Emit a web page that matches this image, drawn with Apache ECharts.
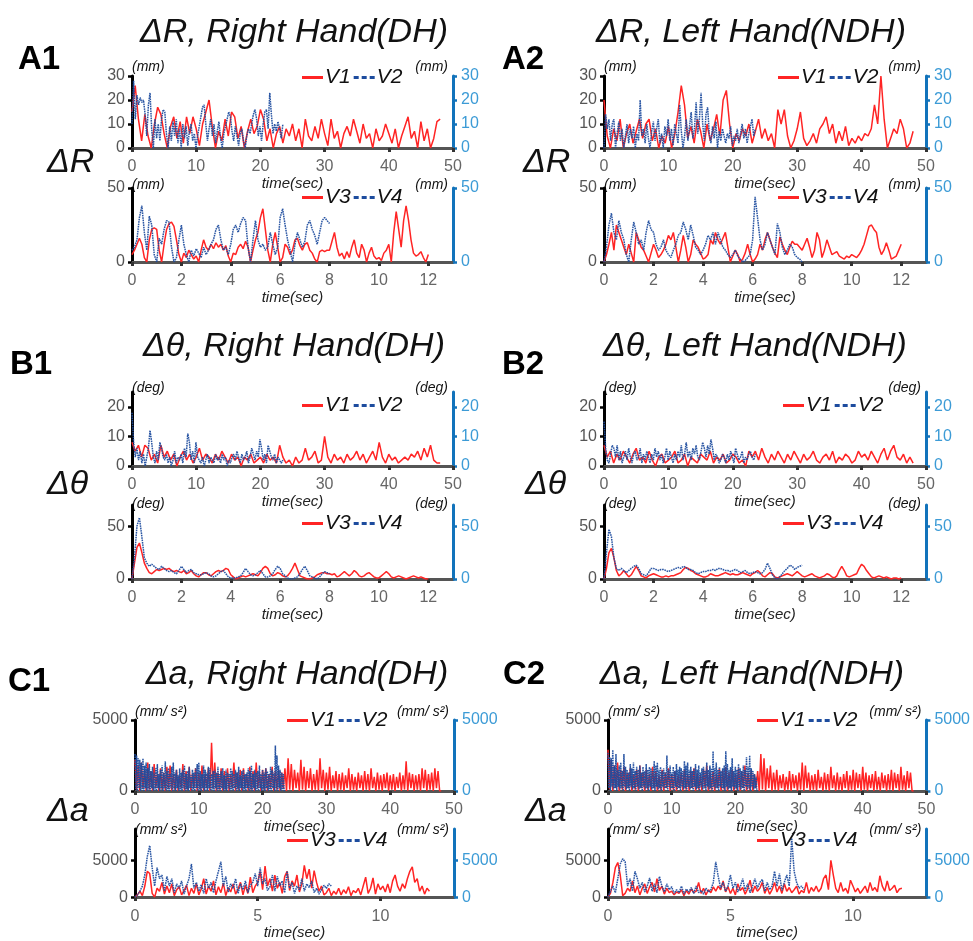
<!DOCTYPE html>
<html>
<head>
<meta charset="utf-8">
<script src="https://cdn.jsdelivr.net/npm/echarts@6/dist/echarts.min.js"></script>
<style>
html, body { margin: 0; padding: 0; background: #fff; }
#main { width: 973px; height: 941px; }
</style>
</head>
<body>
<div id="main"></div>
<script>
// time span (sec) covered by each trace, samples are evenly spread over it
var spanV1 = 48, spanV2 = 23.5, spanV3 = 12, spanV4 = 8;

// ---- A : delta R (mm) ----
var a1V1 = [15,26,12,3,14,5,0,10,17,14,6,0,9,13,4,11,2,13,6,13,8,1,10,15,20,9,0,7,3,12,5,15,13,4,9,0,7,12,6,9,16,12,3,8,0,6,9,2,8,5,10,3,8,0,12,5,3,9,4,12,6,1,12,4,7,0,6,9,5,12,7,2,10,4,6,0,8,3,5,10,6,2,8,0,5,9,13,4,7,0,11,3,8,0,4,11,12];
var a1V2 = [10,28,12,22,18,21,19,20,14,5,18,23,8,0,12,4,10,3,12,16,15,6,0,9,3,11,5,12,2,8,0,10,4,9,1,7,10,3,6,0,5,9,13,17,18,10,3,8,12,5,10,2,7,11,4,0,6,9,12,15,13,7,3,9,5,1,6,8,3,0,5,8,6,10,14,16,12,5,9,3,10,15,16,8,23,14,6,10,7,11,8,4,10];
var a1V3 = [5,8,12,16,12,3,0,15,22,23,22,8,0,12,22,26,27,24,15,5,0,6,3,8,5,2,4,0,8,15,10,8,12,9,13,10,12,8,11,4,0,6,5,10,12,9,14,10,0,8,15,20,30,36,22,8,0,12,20,10,0,3,12,10,5,8,15,16,11,8,12,13,8,6,2,0,7,8,7,8,8,14,20,10,4,6,2,7,3,10,15,6,3,12,8,0,6,10,4,2,3,1,6,8,12,0,20,34,22,10,28,38,28,15,6,4,5,7,3,0,5];
var a1V4 = [8,10,15,30,38,20,8,31,25,5,0,16,12,22,28,27,10,0,3,15,25,12,5,0,8,4,9,6,3,10,5,8,12,15,22,25,15,8,10,5,12,22,25,20,26,30,28,10,0,15,28,15,10,12,8,10,20,12,5,10,30,36,25,15,8,0,12,20,15,10,14,25,28,22,18,12,20,28,30,28,26];
var a2V1 = [20,5,0,8,3,12,0,6,10,2,7,12,4,10,12,3,8,0,5,2,9,0,6,15,26,18,4,9,2,12,7,0,10,3,8,14,5,20,24,10,0,6,3,8,5,10,2,7,12,4,8,3,6,0,16,10,16,5,0,3,8,15,4,1,3,6,2,8,10,13,6,10,2,7,3,9,1,4,2,5,3,6,5,8,18,10,30,12,0,4,8,6,12,8,0,2,7];
var a2V2 = [0,14,8,12,3,10,12,0,6,11,3,8,0,5,10,2,8,4,9,0,6,3,20,5,8,2,10,4,0,7,11,3,8,12,2,6,0,9,5,12,3,8,1,10,6,2,18,7,0,5,12,3,9,15,4,8,19,6,12,23,10,3,14,17,6,2,9,4,11,0,7,3,8,5,2,6,4,9,1,5,3,8,2,6,10,4,8,2,6,9,12,5,8];
var a2V3 = [0,5,12,20,8,25,20,15,10,5,12,6,0,20,15,10,8,4,0,6,12,8,3,5,8,12,18,15,20,10,0,8,18,10,0,5,15,12,10,6,2,3,5,15,12,20,15,12,16,20,10,0,4,8,5,0,2,6,12,5,0,2,5,12,8,15,20,15,10,6,3,17,12,8,5,10,14,12,12,10,8,12,16,10,3,8,20,15,3,8,15,10,5,6,7,4,3,2,4,3,5,4,3,5,8,12,18,24,25,22,20,10,5,8,13,8,2,3,4,8,12];
var a2V4 = [0,10,25,33,20,15,28,20,15,5,0,15,27,20,12,15,8,20,28,22,20,12,8,10,15,8,5,3,8,12,18,20,27,22,15,25,18,10,8,5,8,12,18,15,20,12,20,15,10,8,5,3,5,8,4,2,0,1,3,5,15,44,30,15,8,12,20,15,10,5,26,20,10,5,8,12,10,5,3,2,0];

// ---- B : delta theta (deg) ----
var b1V1 = [8,5,7,3,7,6,2,4,1,7,3,5,2,4,0,3,5,2,4,1,3,6,2,4,3,1,4,2,5,3,1,4,2,3,0,3,2,4,1,2,3,1,4,2,3,1,7,3,1,2,0,3,1,2,6,2,3,5,1,2,10,3,1,4,2,3,1,4,2,3,5,2,4,1,3,5,2,8,3,1,4,2,3,1,2,3,2,4,3,5,2,6,3,7,2,1,1];
var b1V2 = [18,8,3,6,2,5,1,4,0,3,6,12,8,3,1,5,2,8,6,3,2,4,1,3,0,2,5,1,3,2,4,1,6,3,11,8,2,5,1,8,3,2,1,3,0,2,4,1,3,2,1,4,2,3,1,4,2,3,0,2,1,3,4,2,5,3,1,4,2,3,5,1,3,6,4,2,5,3,9,6,2,4,1,7,5,3,2,4,1,3,2,1,2];
var b1V3 = [0,15,30,34,25,15,10,6,5,7,9,8,9,10,9,10,8,7,8,7,6,8,5,6,8,5,3,2,4,6,6,4,3,5,7,8,7,8,10,9,4,2,0,1,2,3,2,3,4,5,4,3,6,10,12,10,5,3,4,6,5,3,2,3,6,10,15,9,3,2,1,0,0,1,2,4,5,6,6,5,5,4,5,2,3,5,7,5,3,5,8,6,3,2,3,5,6,4,2,1,1,3,5,7,5,2,1,2,3,2,1,0,1,2,3,2,1,2,1,0,0];
var b1V4 = [0,20,50,58,40,20,15,12,14,12,10,9,12,10,8,7,8,6,5,8,12,9,6,8,9,6,5,4,4,5,6,5,3,2,3,5,7,8,5,2,1,1,1,2,3,6,10,7,4,3,4,6,8,5,2,2,3,5,9,12,10,5,3,1,0,0,1,2,5,9,12,8,3,2,1,0,2,5,7,6,5];
var b2V1 = [7,3,5,1,4,2,5,3,1,4,6,2,3,1,5,2,0,3,4,1,2,3,5,1,2,4,0,3,2,1,4,3,2,5,1,3,2,4,1,2,4,3,1,2,0,5,3,5,2,6,3,1,4,2,5,3,1,4,2,5,3,1,4,2,3,5,2,1,3,4,2,5,1,3,2,4,3,1,2,5,3,4,2,5,3,1,4,6,2,5,7,3,2,4,1,3,1];
var b2V2 = [15,6,2,1,4,7,6,3,7,2,5,1,3,5,2,6,3,1,4,5,2,3,6,1,4,2,5,3,1,4,2,6,3,5,2,4,1,3,6,2,5,3,1,4,2,5,3,7,2,4,8,3,5,2,6,4,7,3,2,5,8,6,3,7,4,9,6,2,4,3,1,2,4,3,1,4,2,5,3,1,6,4,2,3,5,1,3,2,4,5,3,2,4];
var b2V3 = [0,10,25,29,20,8,3,5,8,5,2,4,8,12,8,3,2,1,3,4,5,4,3,2,2,3,2,3,3,4,5,6,9,11,10,8,7,5,4,3,2,2,3,5,4,3,3,4,5,6,5,4,5,4,4,5,6,5,4,3,5,6,8,6,3,2,4,6,5,2,1,2,3,4,5,4,3,5,7,5,3,2,3,4,5,3,2,1,2,3,5,4,2,1,3,8,12,8,3,2,3,4,5,10,14,12,8,5,2,1,2,3,2,1,2,1,0,1,1,0,1];
var b2V4 = [0,25,47,40,20,10,8,10,8,6,8,10,12,13,10,5,4,3,6,10,10,9,8,9,9,8,7,8,9,10,11,10,12,11,9,9,8,6,5,6,7,7,8,8,9,8,10,10,9,8,8,7,8,9,8,6,7,8,6,5,6,7,6,5,6,9,15,10,4,1,0,2,5,8,10,13,12,9,11,12,13];

// ---- C : delta a (mm/s^2) ----
var c1V1 = [
  2200,100,1800,0,2000,200,1500,0,2000,100,1400,0,1900,200,1200,0,1600,100,1300,0,
  1700,200,1800,0,1200,100,1500,0,1100,200,1900,0,1400,100,1700,0,1200,200,1600,0,
  1300,100,1800,0,1200,200,1600,0,3400,200,2000,0,1300,100,1600,0,1400,100,1600,0,
  1200,200,2000,0,1300,100,1500,0,1600,200,1200,0,1700,100,1400,0,2000,200,1300,0,
  1500,100,1600,0,1200,200,1700,0,1400,100,1500,0,1300,200,1600,0,2300,100,1900,0,
  1500,200,1300,0,2200,100,1700,0,1400,200,1600,0,1200,100,1500,0,2300,200,1500,0,
  1300,100,1700,0,1100,200,1400,0,1200,100,1300,0,1100,200,1600,0,1200,100,1000,0,
  1300,200,1100,0,1400,100,1200,0,1600,200,1000,0,1300,100,1100,0,1200,200,1300,0,
  1100,100,1200,0,1000,200,1300,0,1100,100,2100,0,1300,200,1200,0,1100,100,1200,0,
  1600,200,1500,0,1200,100,1300,0,1600,200,1400,0,0];
var c1V2 = [
  2600,100,2500,0,2300,200,2200,0,2000,100,2300,0,1800,200,2000,0,1600,100,1900,0,
  1400,200,1700,0,1300,100,1600,0,1900,200,1200,0,1500,100,1800,0,1300,200,2100,0,
  1400,100,1600,0,1200,200,1700,0,2000,100,1300,0,1500,200,1100,0,1600,100,1300,0,
  1500,200,1800,0,1200,100,1400,0,1700,200,1100,0,1500,100,1300,0,1600,200,1900,0,
  2000,100,1400,0,1200,200,1800,0,1500,100,1300,0,1700,200,1600,0,1200,100,1400,0,
  1500,200,1300,0,1700,100,1200,0,1400,200,1600,0,1100,100,1500,0,1300,200,1200,0,
  1600,100,1400,0,1200,200,1500,0,1300,100,1700,0,1100,200,1400,0,1500,100,1200,0,
  1300,200,1600,0,1400,100,1800,0,1200,200,1500,0,1300,100,1400,0,1800,200,1200,0,
  1500,100,1300,0,1600,200,1400,0,1200,100,1700,0,1500,200,1300,0,3200,100,2500,0,
  1800,200,1500,0,1300,100,1200,0,0];
var c1V3 = [0,300,800,200,1500,3500,3200,500,0,1200,800,2000,400,1500,600,1800,200,1000,1400,300,900,1600,200,1200,500,1800,300,1100,2500,400,1500,800,2200,300,1400,600,1900,200,1300,700,1800,400,1100,2000,300,1600,500,2700,600,1500,2000,3500,1000,4200,1500,2500,800,3000,1200,2000,500,2800,3500,900,2200,1500,3000,700,1800,4300,2500,3800,1200,3600,2000,800,1500,300,600,1200,200,800,400,1200,300,1000,500,1400,200,900,600,1200,300,1500,2700,500,1200,2600,400,1800,1000,1500,700,1800,600,2200,3000,1500,800,1800,1200,2500,3500,4100,2000,2500,800,1500,400,1200,800];
var c1V4 = [0,300,800,1500,3000,5500,7000,4000,1500,4000,2500,3000,800,2800,1500,2500,600,1800,1200,2200,400,1500,2500,4500,1200,2000,800,1700,500,2500,1200,2000,600,2200,3500,4800,1500,2800,700,1800,1200,2500,500,1800,1000,2200,600,1600,2000,3200,1500,4000,1800,2500,900,1400,3000,800,2800,1500,2200,600,3500,1200,2000,500,1500,1000,2500,800,1800,1300,2200,600,1200,400,1000,1600,1200,1800,1500];
var c2V1 = [
  2900,100,2200,0,1800,200,2000,0,1500,100,1700,0,1300,200,1600,0,1200,100,1500,0,
  1800,200,1300,0,1500,100,1200,0,1700,200,1400,0,1100,100,1500,0,1300,200,1600,0,
  1200,100,1400,0,1100,200,1300,0,1500,100,1200,0,1400,200,1600,0,1300,100,1100,0,
  1500,200,1800,0,1300,100,1400,0,1200,200,1600,0,1400,100,1700,0,1300,200,1500,0,
  1200,100,1600,0,1400,200,1800,0,1300,100,1500,0,1200,200,1400,0,2600,100,2300,0,
  1600,200,1800,0,1300,100,1500,0,1100,200,1200,0,1000,100,1400,0,1200,200,1100,0,
  1300,100,2000,0,1800,200,1300,0,1100,100,1200,0,1500,200,1000,0,1300,100,1200,0,
  1700,200,1100,0,1300,100,1000,0,1200,200,1400,0,1100,100,1500,0,1300,200,1200,0,
  1700,100,1300,0,1100,200,1200,0,1400,100,1000,0,1300,200,1100,0,1200,100,1500,0,
  1300,200,1200,0,1700,100,1100,0,1400,200,1300,0,0];
var c2V2 = [
  2700,200,2400,0,2300,300,2900,100,1800,200,2600,0,1500,300,1800,100,2000,200,1400,0,
  2600,300,1700,100,1500,200,1300,0,1900,300,1600,100,2000,200,1400,0,1700,300,1500,100,
  1800,200,1300,0,1700,300,1400,100,1900,200,1500,0,1700,300,1600,100,1400,200,2100,0,
  1800,300,2000,100,1500,200,1700,0,1400,300,1600,100,1300,200,2500,0,1500,300,1800,100,
  1300,200,1700,0,1400,300,1900,100,1500,200,1700,0,1600,300,1400,100,2100,200,1800,0,
  2000,300,1500,100,1700,200,1400,0,1600,300,1900,100,1500,200,1800,0,1300,300,1600,100,
  1700,200,1400,0,2000,300,1500,100,1800,200,1600,0,2800,300,1600,100,2000,200,1500,0,
  1700,300,1400,100,1600,200,1800,0,2800,300,1900,100,1500,200,1700,0,2300,300,1400,100,
  1700,200,1500,0,1900,300,1600,100,1400,200,1800,0,1500,300,2400,100,1700,200,2500,0,
  1600,300,1400,100,1200,200,1000,0,0];
var c2V3 = [0,500,2000,4000,4700,3000,200,500,1200,800,2200,600,1500,300,1200,1800,500,1400,2000,700,2500,900,1500,400,1200,600,800,300,700,500,1000,200,900,400,1100,600,800,2000,500,1200,300,1000,600,1400,800,1500,1000,2200,700,1400,500,1200,300,1800,900,1300,400,1100,2300,600,1500,800,1200,2000,500,1300,400,1000,2000,700,1500,500,1800,800,1300,600,1000,1500,400,900,600,2000,500,1300,800,1500,700,1200,2500,3000,1000,5000,3000,1200,600,2000,800,1200,500,2300,1500,700,1200,500,1000,1500,600,2000,900,1300,700,2900,1500,800,2200,900,1200,1600,600,1100,1200];
var c2V4 = [0,800,1500,600,2500,4500,5200,4800,1500,2500,800,3500,2500,1200,2000,700,1500,2600,800,1800,600,2800,1500,700,1800,1000,1400,500,1000,600,1500,400,1100,700,1300,500,1500,600,900,400,1200,700,1000,2000,4800,2800,1200,2000,800,1500,3000,1200,2000,700,1400,2500,900,1800,600,1500,2500,1200,2000,2400,800,2000,1000,1500,3500,1500,3200,900,2000,3000,1500,8000,3500,2000,1200,1500,1000];

// texts
var titles = ['ΔR, Right Hand(DH)', 'ΔR, Left Hand(NDH)', 'Δθ, Right Hand(DH)', 'Δθ, Left Hand(NDH)', 'Δa, Right Hand(DH)', 'Δa, Left Hand(NDH)'];
var tags = ['A1', 'A2', 'B1', 'B2', 'C1', 'C2'];
var symbols = ['ΔR', 'Δθ', 'Δa'];
var units = ['(mm)', '(deg)', '(mm/ s²)'];

// axis ranges and tick values per row (A, B, C)
var topYMax = [30, 25, 5000];
var topYTicks = [[0, 10, 20, 30], [0, 10, 20], [0, 5000]];
var botYMax = [50, 70, 9250];
var botYTicks = [[0, 50], [0, 50], [0, 5000]];
var topXTicks = [0, 10, 20, 30, 40, 50];
var botXTicks = [[0, 2, 4, 6, 8, 10, 12], [0, 2, 4, 6, 8, 10, 12], [0, 5, 10]];

var FONT = '"Liberation Sans", Arial, sans-serif';
var RED = '#ff2424', BLUE = '#1d4c9e', AXBLUE = '#1273bb', LBLBLUE = '#3c9bd6';
var DASH_ICON = 'path://M0,0h5v3h-5zM8,0h5v3h-5zM16,0h5v3h-5z';

// pixel layout of each panel column / row
var colX = [[[132, 321], [604, 322]], [[132, 321], [604, 322]], [[135, 319], [608, 319]]];
var rowY = [[[76, 72], [188, 74]], [[392, 74], [505, 74]], [[720, 71], [829, 74]]];
var unitGap = [[2, -4], [-3, -6], [1, -8]];
var legendPos = [
  [[[297, 62], [297, 182]], [[773, 62], [773, 182]]],
  [[[297, 390], [297, 508]], [[778, 390], [778, 508]]],
  [[[282, 705], [282, 825]], [[752, 705], [752, 825]]]
];
var titlePos = [[294, 33], [751, 33], [294, 347], [755, 347], [297, 675], [752, 675]];
var tagPos = [[18, 60], [502, 60], [10, 365], [502, 365], [8, 682], [503, 675]];
var symPos = [[47, 163], [523, 163], [47, 485], [525, 485], [47, 812], [525, 812]];

var panelData = [
  [[a1V1, a1V2, a1V3, a1V4], [a2V1, a2V2, a2V3, a2V4]],
  [[b1V1, b1V2, b1V3, b1V4], [b2V1, b2V2, b2V3, b2V4]],
  [[c1V1, c1V2, c1V3, c1V4], [c2V1, c2V2, c2V3, c2V4]]
];

function toPairs(vals, span) {
  var step = span / (vals.length - 1);
  return vals.map(function (v, i) { return [+(i * step).toFixed(4), v]; });
}
function plain(v) { return String(v); }

var grids = [], xAxes = [], yAxes = [], series = [], legends = [];

function addPlot(left, width, top, height, xMax, xTicks, yMax, yTicks, unit, gap, red, blue, redSpan, blueSpan, names, lp) {
  var gi = grids.length;
  grids.push({ left: left, top: top, width: width, height: height });
  xAxes.push({
    gridIndex: gi, type: 'value', min: 0, max: xMax,
    name: 'time(sec)', nameLocation: 'middle', nameGap: 21,
    nameTextStyle: { fontFamily: FONT, fontStyle: 'italic', fontSize: 15, color: '#222' },
    axisLine: { show: true, onZero: false, lineStyle: { color: '#555', width: 3 } },
    axisTick: { show: true, customValues: xTicks, length: 4, lineStyle: { color: '#333', width: 3 } },
    axisLabel: { customValues: xTicks, formatter: plain, fontFamily: FONT, fontSize: 16, color: '#666', margin: 11 },
    splitLine: { show: false }
  });
  var yi = yAxes.length;
  yAxes.push({
    gridIndex: gi, type: 'value', position: 'left', min: 0, max: yMax,
    name: unit, nameLocation: 'end', nameGap: gap,
    nameTextStyle: { fontFamily: FONT, fontStyle: 'italic', fontSize: 14, color: '#111', align: 'left' },
    axisLine: { show: true, lineStyle: { color: '#000', width: 3 } },
    axisTick: { show: true, customValues: yTicks, length: 4, lineStyle: { color: '#000', width: 2.5 } },
    axisLabel: { customValues: yTicks, formatter: plain, fontFamily: FONT, fontSize: 16, color: '#555', margin: 7 },
    splitLine: { show: false }
  });
  yAxes.push({
    gridIndex: gi, type: 'value', position: 'right', min: 0, max: yMax,
    name: unit, nameLocation: 'end', nameGap: gap,
    nameTextStyle: { fontFamily: FONT, fontStyle: 'italic', fontSize: 14, color: '#111', align: 'right', padding: [0, 5, 0, 0] },
    axisLine: { show: true, lineStyle: { color: AXBLUE, width: 3 } },
    axisTick: { show: true, customValues: yTicks, length: 4, lineStyle: { color: AXBLUE, width: 2.5 } },
    axisLabel: { customValues: yTicks, formatter: plain, fontFamily: FONT, fontSize: 16, color: LBLBLUE, margin: 8 },
    splitLine: { show: false }
  });
  series.push({
    type: 'line', name: names[0], xAxisIndex: gi, yAxisIndex: yi,
    data: toPairs(red, redSpan), symbol: 'none', z: 2,
    lineStyle: { color: RED, width: 1.5 }, itemStyle: { color: RED }
  });
  series.push({
    type: 'line', name: names[1], xAxisIndex: gi, yAxisIndex: yi + 1,
    data: toPairs(blue, blueSpan), symbol: 'none', z: 3,
    lineStyle: { color: BLUE, width: 1.5, type: [1.6, 0.8], opacity: 0.95 }, itemStyle: { color: BLUE }
  });
  legends.push({
    left: lp[0], top: lp[1], orient: 'horizontal', selectedMode: false,
    itemWidth: 21, itemHeight: 3, itemGap: 3,
    data: [{ name: names[0], icon: 'rect' }, { name: names[1], icon: DASH_ICON }],
    textStyle: { fontFamily: FONT, fontStyle: 'italic', fontSize: 21, color: '#111', padding: [0, 0, 0, -3] }
  });
}

for (var r = 0; r < 3; r++) {
  for (var c = 0; c < 2; c++) {
    var d = panelData[r][c];
    var cx = colX[r][c];
    addPlot(cx[0], cx[1], rowY[r][0][0], rowY[r][0][1], 50, topXTicks, topYMax[r], topYTicks[r],
      units[r], unitGap[r][0], d[0], d[1], spanV1, spanV2, ['V1', 'V2'], legendPos[r][c][0]);
    addPlot(cx[0], cx[1], rowY[r][1][0], rowY[r][1][1], 13, botXTicks[r], botYMax[r], botYTicks[r],
      units[r], unitGap[r][1], d[2], d[3], spanV3, spanV4, ['V3', 'V4'], legendPos[r][c][1]);
  }
}

var texts = [];
titles.forEach(function (t, i) {
  texts.push({ type: 'text', x: titlePos[i][0], y: titlePos[i][1],
    style: { text: t, font: 'italic 34px ' + FONT, fill: '#111', align: 'center', verticalAlign: 'middle' } });
});
tags.forEach(function (t, i) {
  texts.push({ type: 'text', x: tagPos[i][0], y: tagPos[i][1],
    style: { text: t, font: 'bold 33px ' + FONT, fill: '#000', align: 'left', verticalAlign: 'middle' } });
});
symPos.forEach(function (p, i) {
  texts.push({ type: 'text', x: p[0], y: p[1],
    style: { text: symbols[Math.floor(i / 2)], font: 'italic 34px ' + FONT, fill: '#111', align: 'left', verticalAlign: 'middle' } });
});

var chart = echarts.init(document.getElementById('main'));
chart.setOption({
  animation: false,
  backgroundColor: '#fff',
  grid: grids,
  xAxis: xAxes,
  yAxis: yAxes,
  legend: legends,
  series: series,
  graphic: texts
});
</script>
</body>
</html>
